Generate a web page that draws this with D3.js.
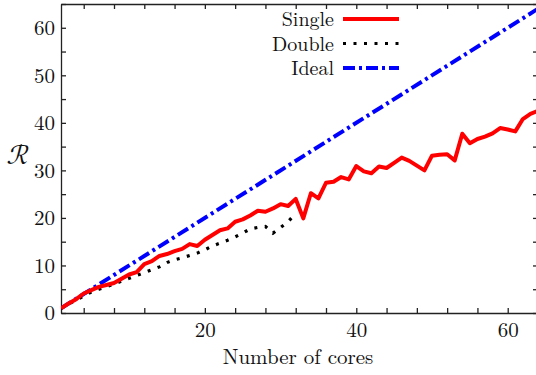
<!DOCTYPE html>
<html>
<head>
<meta charset="utf-8">
<script src="https://cdn.jsdelivr.net/npm/d3@7"></script>
<style>
  body { margin: 0; background: #fff; }
  .axis path, .axis line { stroke: #222; stroke-width: 1.3; }
</style>
</head>
<body>
<div class="chart"></div>
<script>
// data
const cores = [1,2,3,4,5,6,7,8,9,10,11,12,13,14,15,16,17,18,19,20,21,22,23,24,25,26,27,28,29,30,31,32,
  33,34,35,36,37,38,39,40,41,42,43,44,45,46,47,48,49,50,51,52,53,54,55,56,57,58,59,60,61,62,63,64];
const single = [1,2,2.9,4.1,4.8,5.5,5.9,6.3,7.2,8.1,8.6,10.3,10.9,12,12.4,13,13.5,14.5,14.1,15.4,16.4,17.4,17.8,19.2,19.7,20.5,21.5,21.3,22,22.9,22.5,24,
  19.9,25.2,24.1,27.4,27.6,28.6,28.1,30.9,29.8,29.4,30.8,30.5,31.6,32.7,32,31,30,33.1,33.3,33.4,32.1,37.7,35.7,36.6,37.1,37.8,38.9,38.6,38.2,40.8,41.9,42.5];
const coresDouble = cores.slice(0, 32);
const double = [1,1.9,2.7,3.6,4.4,5,5.5,6.1,6.7,7.3,7.9,8.5,9.1,9.7,10.6,11.2,11.6,12.1,12.6,13.3,14.1,14.7,15.3,16,16.8,17.7,18,18.2,16.8,18,19.2,21];
const coresIdeal = [1, 64];
const ideal = [1, 64];

const xTicks = [4,8,12,16,20,24,28,32,36,40,44,48,52,56,60,64];
const xTickLabels = [20, 40, 60];
const yTicks = [0,5,10,15,20,25,30,35,40,45,50,55,60,65];
const yTickLabels = [0, 10, 20, 30, 40, 50, 60];
const seriesNames = ["Single", "Double", "Ideal"];

const serif = "Latin Modern Roman";

/* margins and dimensions */
const margin = {top: 4, right: -2, bottom: 62, left: 61};
const width = 536 - margin.left - margin.right;
const height = 375 - margin.top - margin.bottom;

const svg = d3.select(".chart").append("svg")
  .attr("width", 536)
  .attr("height", 375)
  .append("g")
    .attr("transform", "translate(" + margin.left + "," + margin.top + ")");

const xScale = d3.scaleLinear().domain([1, 64]).range([0, width]);
const yScale = d3.scaleLinear().domain([0, 65]).range([height, 0]);

svg.append("clipPath").attr("id", "clip")
  .append("rect").attr("width", width).attr("height", height);

/* axes, ticks point inward */
const fmtX = d => xTickLabels.includes(d) ? d : "";
const fmtY = d => yTickLabels.includes(d) ? d : "";

svg.append("g").attr("class", "axis")
  .attr("transform", `translate(0, ${height})`)
  .call(d3.axisBottom(xScale).tickValues(xTicks).tickFormat(fmtX).tickSizeInner(-5).tickSizeOuter(0).tickPadding(9));
svg.append("g").attr("class", "axis")
  .call(d3.axisTop(xScale).tickValues(xTicks).tickFormat("").tickSizeInner(-5).tickSizeOuter(0));
svg.append("g").attr("class", "axis")
  .call(d3.axisLeft(yScale).tickValues(yTicks).tickFormat(fmtY).tickSizeInner(-5).tickSizeOuter(0).tickPadding(6));
svg.append("g").attr("class", "axis")
  .attr("transform", `translate(${width}, 0)`)
  .call(d3.axisRight(yScale).tickValues(yTicks).tickFormat("").tickSizeInner(-5).tickSizeOuter(0));

svg.selectAll(".axis").attr("font-family", serif).attr("font-size", 21);
svg.selectAll(".axis text").attr("fill", "#111");

/* lines */
const line = (xs) => d3.line()
  .x((d, i) => xScale(xs[i]))
  .y(d => yScale(d));

const plot = svg.append("g").attr("clip-path", "url(#clip)");

plot.append("path").datum(ideal)
  .attr("d", line(coresIdeal))
  .attr("fill", "none").attr("stroke", "#0000ff").attr("stroke-width", 4)
  .attr("stroke-dasharray", "12,4,3,4");

plot.append("path").datum(double)
  .attr("d", line(coresDouble))
  .attr("fill", "none").attr("stroke", "#000").attr("stroke-width", 3.2)
  .attr("stroke-dasharray", "3,7.5");

plot.append("path").datum(single)
  .attr("d", line(cores))
  .attr("fill", "none").attr("stroke", "#ff0000").attr("stroke-width", 4)
  .attr("stroke-linejoin", "round");

/* legend */
const legendStyles = [
  {stroke: "#ff0000", width: 4, dash: null},
  {stroke: "#000", width: 3.2, dash: "3,7.5"},
  {stroke: "#0000ff", width: 4, dash: "12,4,3,4"}
];
const legend = svg.append("g");
seriesNames.forEach((name, i) => {
  const y = 15 + i * 24.5;
  legend.append("text")
    .attr("x", 334 - margin.left).attr("y", y)
    .attr("dy", "0.35em")
    .attr("font-family", serif).attr("font-size", 20).attr("fill", "#111")
    .style("text-anchor", "end")
    .text(name);
  legend.append("line")
    .attr("x1", 343 - margin.left).attr("x2", 399 - margin.left)
    .attr("y1", y).attr("y2", y)
    .attr("stroke", legendStyles[i].stroke)
    .attr("stroke-width", legendStyles[i].width)
    .attr("stroke-dasharray", legendStyles[i].dash);
});

/* axis titles */
svg.append("text")
  .attr("x", 298 - margin.left).attr("y", 364 - margin.top)
  .attr("font-family", serif).attr("font-size", 21).attr("fill", "#111")
  .style("text-anchor", "middle")
  .text("Number of cores");

svg.append("text")
  .attr("x", 18 - margin.left).attr("y", 164 - margin.top)
  .attr("font-family", "Latin Modern Math").attr("font-size", 28).attr("fill", "#111")
  .style("text-anchor", "middle")
  .text("ℛ");
</script>
</body>
</html>
